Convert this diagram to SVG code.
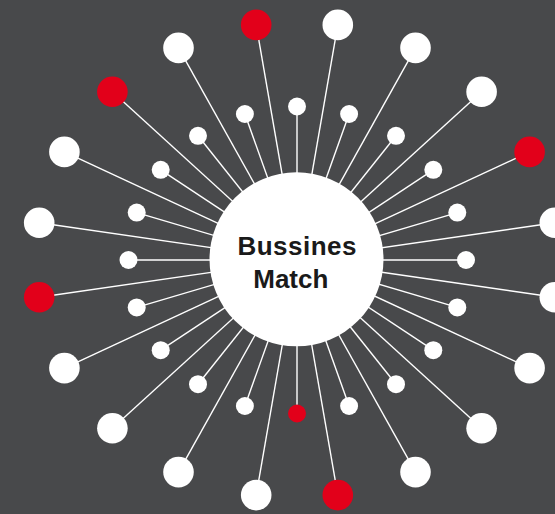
<svg xmlns="http://www.w3.org/2000/svg" width="555" height="514" viewBox="0 0 555 514">
<style>
.bg{fill:#48494b}
.ln{stroke:#ffffff;stroke-width:1.4;fill:none}
.big{fill:#ffffff}
.sm{fill:#ffffff}
.red{fill:#e2001a}
.hub{fill:#ffffff}
.lbl{font-family:"Liberation Sans",Arial,sans-serif;font-weight:bold;font-size:26px;fill:#1a1a1a}
</style>
<rect class="bg" x="0" y="0" width="555" height="514"/>
<g id="connectors">
<line class="ln" x1="297" y1="260" x2="337.8" y2="24.9"/>
<line class="ln" x1="297" y1="260" x2="415.5" y2="47.9"/>
<line class="ln" x1="297" y1="260" x2="481.6" y2="91.7"/>
<line class="ln" x1="297" y1="260" x2="529.6" y2="151.9"/>
<line class="ln" x1="297" y1="260" x2="554.8" y2="222.8"/>
<line class="ln" x1="297" y1="260" x2="554.8" y2="297.2"/>
<line class="ln" x1="297" y1="260" x2="529.6" y2="368.1"/>
<line class="ln" x1="297" y1="260" x2="481.6" y2="428.3"/>
<line class="ln" x1="297" y1="260" x2="415.5" y2="472.1"/>
<line class="ln" x1="297" y1="260" x2="337.8" y2="495.1"/>
<line class="ln" x1="297" y1="260" x2="256.2" y2="495.1"/>
<line class="ln" x1="297" y1="260" x2="178.5" y2="472.1"/>
<line class="ln" x1="297" y1="260" x2="112.4" y2="428.3"/>
<line class="ln" x1="297" y1="260" x2="64.4" y2="368.1"/>
<line class="ln" x1="297" y1="260" x2="39.2" y2="297.2"/>
<line class="ln" x1="297" y1="260" x2="39.2" y2="222.8"/>
<line class="ln" x1="297" y1="260" x2="64.4" y2="151.9"/>
<line class="ln" x1="297" y1="260" x2="112.4" y2="91.7"/>
<line class="ln" x1="297" y1="260" x2="178.5" y2="47.9"/>
<line class="ln" x1="297" y1="260" x2="256.2" y2="24.9"/>
<line class="ln" x1="297" y1="260" x2="297" y2="106.5"/>
<line class="ln" x1="297" y1="260" x2="349.1" y2="114"/>
<line class="ln" x1="297" y1="260" x2="396" y2="135.8"/>
<line class="ln" x1="297" y1="260" x2="433.3" y2="169.8"/>
<line class="ln" x1="297" y1="260" x2="457.3" y2="212.6"/>
<line class="ln" x1="297" y1="260" x2="466" y2="260"/>
<line class="ln" x1="297" y1="260" x2="457.3" y2="307.4"/>
<line class="ln" x1="297" y1="260" x2="433.3" y2="350.2"/>
<line class="ln" x1="297" y1="260" x2="396" y2="384.2"/>
<line class="ln" x1="297" y1="260" x2="349.1" y2="406"/>
<line class="ln" x1="297" y1="260" x2="297" y2="413.5"/>
<line class="ln" x1="297" y1="260" x2="244.9" y2="406"/>
<line class="ln" x1="297" y1="260" x2="198" y2="384.2"/>
<line class="ln" x1="297" y1="260" x2="160.7" y2="350.2"/>
<line class="ln" x1="297" y1="260" x2="136.7" y2="307.4"/>
<line class="ln" x1="297" y1="260" x2="128.5" y2="260"/>
<line class="ln" x1="297" y1="260" x2="136.7" y2="212.6"/>
<line class="ln" x1="297" y1="260" x2="160.7" y2="169.8"/>
<line class="ln" x1="297" y1="260" x2="198" y2="135.8"/>
<line class="ln" x1="297" y1="260" x2="244.9" y2="114"/>
</g>
<g id="outer-1"><circle class="big" cx="337.8" cy="24.9" r="15.3"/></g>
<g id="outer-2"><circle class="big" cx="415.5" cy="47.9" r="15.3"/></g>
<g id="outer-3"><circle class="big" cx="481.6" cy="91.7" r="15.3"/></g>
<g id="outer-4"><circle class="red" cx="529.6" cy="151.9" r="15.3"/></g>
<g id="outer-5"><circle class="big" cx="554.8" cy="222.8" r="15.3"/></g>
<g id="outer-6"><circle class="big" cx="554.8" cy="297.2" r="15.3"/></g>
<g id="outer-7"><circle class="big" cx="529.6" cy="368.1" r="15.3"/></g>
<g id="outer-8"><circle class="big" cx="481.6" cy="428.3" r="15.3"/></g>
<g id="outer-9"><circle class="big" cx="415.5" cy="472.1" r="15.3"/></g>
<g id="outer-10"><circle class="red" cx="337.8" cy="495.1" r="15.3"/></g>
<g id="outer-11"><circle class="big" cx="256.2" cy="495.1" r="15.3"/></g>
<g id="outer-12"><circle class="big" cx="178.5" cy="472.1" r="15.3"/></g>
<g id="outer-13"><circle class="big" cx="112.4" cy="428.3" r="15.3"/></g>
<g id="outer-14"><circle class="big" cx="64.4" cy="368.1" r="15.3"/></g>
<g id="outer-15"><circle class="red" cx="39.2" cy="297.2" r="15.3"/></g>
<g id="outer-16"><circle class="big" cx="39.2" cy="222.8" r="15.3"/></g>
<g id="outer-17"><circle class="big" cx="64.4" cy="151.9" r="15.3"/></g>
<g id="outer-18"><circle class="red" cx="112.4" cy="91.7" r="15.3"/></g>
<g id="outer-19"><circle class="big" cx="178.5" cy="47.9" r="15.3"/></g>
<g id="outer-20"><circle class="red" cx="256.2" cy="24.9" r="15.3"/></g>
<g id="inner-1"><circle class="sm" cx="297" cy="106.5" r="9"/></g>
<g id="inner-2"><circle class="sm" cx="349.1" cy="114" r="9"/></g>
<g id="inner-3"><circle class="sm" cx="396" cy="135.8" r="9"/></g>
<g id="inner-4"><circle class="sm" cx="433.3" cy="169.8" r="9"/></g>
<g id="inner-5"><circle class="sm" cx="457.3" cy="212.6" r="9"/></g>
<g id="inner-6"><circle class="sm" cx="466" cy="260" r="9"/></g>
<g id="inner-7"><circle class="sm" cx="457.3" cy="307.4" r="9"/></g>
<g id="inner-8"><circle class="sm" cx="433.3" cy="350.2" r="9"/></g>
<g id="inner-9"><circle class="sm" cx="396" cy="384.2" r="9"/></g>
<g id="inner-10"><circle class="sm" cx="349.1" cy="406" r="9"/></g>
<g id="inner-11"><circle class="red" cx="297" cy="413.5" r="9"/></g>
<g id="inner-12"><circle class="sm" cx="244.9" cy="406" r="9"/></g>
<g id="inner-13"><circle class="sm" cx="198" cy="384.2" r="9"/></g>
<g id="inner-14"><circle class="sm" cx="160.7" cy="350.2" r="9"/></g>
<g id="inner-15"><circle class="sm" cx="136.7" cy="307.4" r="9"/></g>
<g id="inner-16"><circle class="sm" cx="128.5" cy="260" r="9"/></g>
<g id="inner-17"><circle class="sm" cx="136.7" cy="212.6" r="9"/></g>
<g id="inner-18"><circle class="sm" cx="160.7" cy="169.8" r="9"/></g>
<g id="inner-19"><circle class="sm" cx="198" cy="135.8" r="9"/></g>
<g id="inner-20"><circle class="sm" cx="244.9" cy="114" r="9"/></g>
<g id="hub">
<circle class="hub" cx="296.5" cy="259.3" r="87"/>
<text class="lbl" x="297" y="255" text-anchor="middle" textLength="119" lengthAdjust="spacing">Bussines</text>
<text class="lbl" x="290.8" y="288" text-anchor="middle">Match</text>
</g>
</svg>
